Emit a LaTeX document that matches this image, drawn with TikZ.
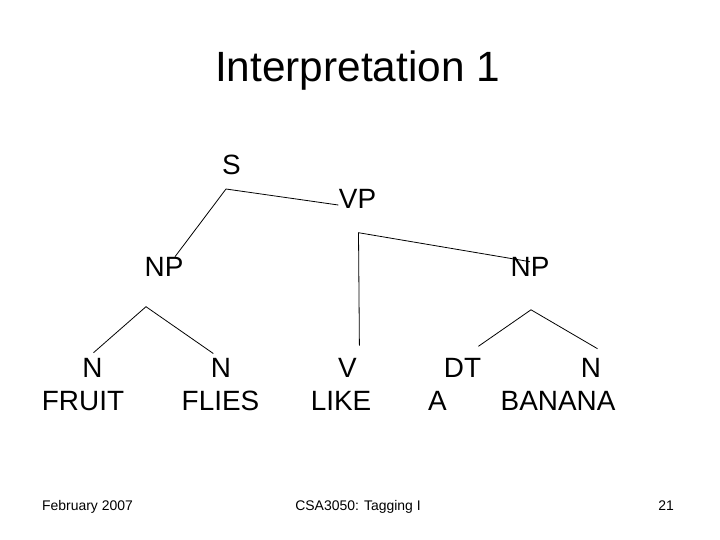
\documentclass[tikz,border=0pt]{standalone}
\usepackage{fontspec}
\setmainfont{Liberation Sans}

\begin{document}
\begin{tikzpicture}[x=1bp, y=-1bp,
  lbl/.style={anchor=base, inner sep=0pt, font=\fontsize{28}{30}\selectfont},
  foot/.style={anchor=base, inner sep=0pt, font=\fontsize{14}{16}\selectfont},
  branch/.style={line width=0.8pt}]
\path[fill=white, use as bounding box] (0,0) rectangle (720,540);
\node[anchor=base, inner sep=0pt, font=\fontsize{42.5}{46}\selectfont] (title) at (357.5,81.7) {Interpretation 1};
\node[lbl] (s) at (231.5,175) {S};
\node[lbl] (vp) at (357.5,208.3) {VP};
\node[lbl] (npleft) at (164,276.7) {NP};
\node[lbl] (npright) at (530,276.7) {NP};
\node[lbl] (nfruit) at (92.5,377) {N};
\node[lbl] (fruit) at (83,410) {FRUIT};
\node[lbl] (nflies) at (221,377) {N};
\node[lbl] (flies) at (220.5,410) {FLIES};
\node[lbl] (vlike) at (347.5,377) {V};
\node[lbl] (like) at (341,410) {LIKE};
\node[lbl] (dta) at (462.5,377) {DT};
\node[lbl] (a) at (437.5,410) {A};
\node[lbl] (nbanana) at (591,377) {N};
\node[lbl] (banana) at (558,410) {BANANA};
\node[foot] (date) at (87.5,510) {February 2007};
\node[foot] (course) at (358,510) {CSA3050: Tagging I};
\node[foot] (page) at (666,510) {21};
\coordinate (sjoin) at (226,189);
\coordinate (vpjoin) at (358.5,232.7);
\coordinate (npljoin) at (146,306.7);
\coordinate (nprjoin) at (531,309.8);
\coordinate (vptip) at (338.3,205);
\coordinate (npltip) at (175,256.7);
\coordinate (nprtip) at (530,261.7);
\coordinate (vtip) at (359.4,345.6);
\coordinate (fruittip) at (93.5,352.7);
\coordinate (fliestip) at (213.3,353.5);
\coordinate (dttip) at (478.4,346.3);
\coordinate (bananatip) at (597.5,348.7);
\draw[branch] (npltip) -- (sjoin) -- (vptip);
\draw[branch] (vtip) -- (vpjoin) -- (nprtip);
\draw[branch] (fruittip) -- (npljoin) -- (fliestip);
\draw[branch] (dttip) -- (nprjoin) -- (bananatip);
\end{tikzpicture}
\end{document}
